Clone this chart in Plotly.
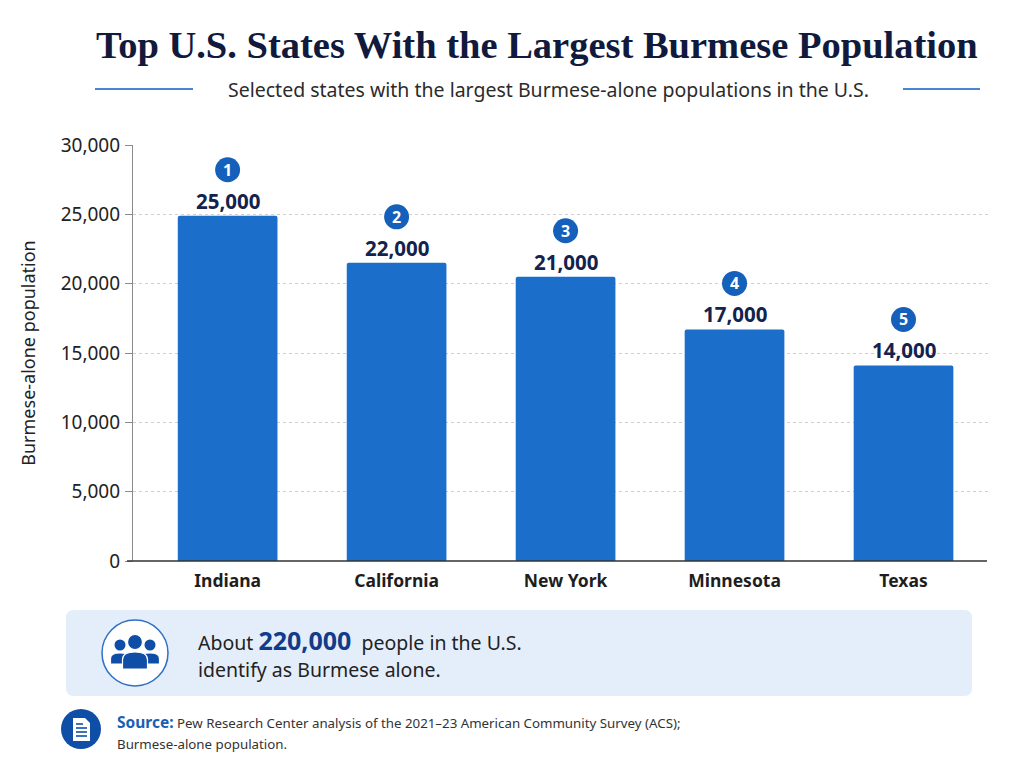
import plotly.graph_objects as go

states = ["Indiana", "California", "New York", "Minnesota", "Texas"]
bar_values = [24900, 21500, 20500, 16700, 14100]
value_labels = ["25,000", "22,000", "21,000", "17,000", "14,000"]
ranks = ["1", "2", "3", "4", "5"]
y_ticks = [0, 5000, 10000, 15000, 20000, 25000, 30000]
y_tick_labels = ["0", "5,000", "10,000", "15,000", "20,000", "25,000", "30,000"]

# page has an 8px body margin; work in page pixel coordinates
OFF = 8
W, H = 1024 - OFF, 768 - OFF
X0, X1, Y0, Y1 = 133, 988, 145, 561   # plot area in page px
ML, MR, MT, MB = X0 - OFF, 1024 - X1, Y0 - OFF, 768 - Y1
PW, PH = X1 - X0, Y1 - Y0


def px(x):
    return (x - X0) / PW


def py(y):
    return (Y1 - y) / PH


BAR = "#1b6fcb"
BADGE = "#1460bb"
NAVY = "#13234d"
ICON = "#0f4ea6"

fig = go.Figure()
fig.add_trace(go.Bar(
    x=list(range(len(states))), y=bar_values, width=0.59,
    marker=dict(color=BAR, line=dict(width=0)),
    hoverinfo="skip",
))

shapes = []
annotations = []


def note(x, y, text, size, color="#222222", xanchor="center", family="Noto Sans"):
    annotations.append(dict(
        x=px(x), y=py(y), xref="paper", yref="paper", xanchor=xanchor, yanchor="middle",
        showarrow=False, text=text, font=dict(family=family, size=size, color=color)))


for i, (v, lab, rk) in enumerate(zip(bar_values, value_labels, ranks)):
    annotations.append(dict(
        x=i, y=v, xref="x", yref="y", text="<b>%s</b>" % lab, showarrow=False,
        xanchor="center", yanchor="middle", yshift=15,
        font=dict(family="Noto Sans", size=20.5, color=NAVY)))
    shapes.append(dict(
        type="circle", xref="x", yref="y", xsizemode="pixel", ysizemode="pixel",
        xanchor=i, yanchor=v, x0=-12.5, x1=12.5, y0=33.5, y1=58.5,
        fillcolor=BADGE, line=dict(width=0), layer="above"))
    annotations.append(dict(
        x=i, y=v, xref="x", yref="y", text="<b>%s</b>" % rk, showarrow=False,
        xanchor="center", yanchor="middle", yshift=46,
        font=dict(family="Noto Sans", size=16, color="white")))

# title and subtitle
note(537, 45, "<b>Top U.S. States With the Largest Burmese Population</b>", 38.5,
     color="#0f1a3d", family="Liberation Serif")
note(548, 89, "Selected states with the largest Burmese-alone populations in the U.S.",
     19.5, color="#2b2b2b")
for x0, x1 in [(95, 193), (903, 980)]:
    shapes.append(dict(type="line", xref="paper", yref="paper",
                       x0=px(x0), x1=px(x1), y0=py(89), y1=py(89),
                       line=dict(color="#4a86d0", width=2)))

# x-axis baseline
shapes.append(dict(type="line", xref="paper", yref="paper",
                   x0=px(127), x1=px(987), y0=py(561), y1=py(561),
                   line=dict(color="#333333", width=1.5)))


def rrect(x0, y0, x1, y1, r):
    pts = [
        f"M {px(x0 + r)} {py(y0)}",
        f"L {px(x1 - r)} {py(y0)}",
        f"Q {px(x1)} {py(y0)} {px(x1)} {py(y0 + r)}",
        f"L {px(x1)} {py(y1 - r)}",
        f"Q {px(x1)} {py(y1)} {px(x1 - r)} {py(y1)}",
        f"L {px(x0 + r)} {py(y1)}",
        f"Q {px(x0)} {py(y1)} {px(x0)} {py(y1 - r)}",
        f"L {px(x0)} {py(y0 + r)}",
        f"Q {px(x0)} {py(y0)} {px(x0 + r)} {py(y0)}",
        "Z",
    ]
    return " ".join(pts)


# info box
shapes.append(dict(type="path", xref="paper", yref="paper", path=rrect(66, 610, 972, 696, 8),
                   fillcolor="#e4eefa", line=dict(width=0), layer="below"))
# people icon circle
shapes.append(dict(type="circle", xref="paper", yref="paper",
                   x0=px(102), x1=px(168), y0=py(620), y1=py(686),
                   fillcolor="white", line=dict(color="#2f6fc4", width=1.5)))


def circ(cx, cy, r, color):
    return dict(type="circle", xref="paper", yref="paper",
                x0=px(cx - r), x1=px(cx + r), y0=py(cy - r), y1=py(cy + r),
                fillcolor=color, line=dict(width=0))


def body(cx, top, half_w, bottom):
    p = (f"M {px(cx - half_w)} {py(bottom)} "
         f"L {px(cx - half_w)} {py(top + half_w * 0.6)} "
         f"Q {px(cx - half_w)} {py(top)} {px(cx)} {py(top)} "
         f"Q {px(cx + half_w)} {py(top)} {px(cx + half_w)} {py(top + half_w * 0.6)} "
         f"L {px(cx + half_w)} {py(bottom)} Z")
    return dict(type="path", xref="paper", yref="paper", path=p,
                fillcolor=ICON, line=dict(color="white", width=1.2))


shapes += [
    circ(120, 645, 5.5, ICON), circ(150, 645, 5.5, ICON),
    body(120, 653, 9.5, 664), body(150, 653, 9.5, 664),
    dict(circ(135, 642, 7.5, ICON), line=dict(color="white", width=1.2)),
    body(135, 652, 12.5, 669),
]

note(196, 640, ("About <b><span style='font-size:25px;color:#123b8a'>220,000</span></b>"
                "  people in the U.S."), 19.5, xanchor="left")
note(196, 669, "identify as Burmese alone.", 19.5, xanchor="left")

# source icon
shapes.append(circ(81, 729, 20, ICON))
doc = (f"M {px(73)} {py(718)} L {px(85)} {py(718)} L {px(90)} {py(723)} "
       f"L {px(90)} {py(741)} L {px(73)} {py(741)} Z")
shapes.append(dict(type="path", xref="paper", yref="paper", path=doc,
                   fillcolor="white", line=dict(width=0)))
for yy, x1 in [(724, 83), (728, 87), (732, 87), (736, 87)]:
    shapes.append(dict(type="line", xref="paper", yref="paper",
                       x0=px(76), x1=px(x1), y0=py(yy), y1=py(yy),
                       line=dict(color=ICON, width=1.6)))

note(115, 722, ("<b><span style='color:#1a5fb4;font-size:15.5px'>Source:</span></b> "
                "Pew Research Center analysis of the 2021–23 American Community Survey (ACS);"),
     13.3, color="#333333", xanchor="left")
note(115, 744, "Burmese-alone population.", 13.3, color="#333333", xanchor="left")

fig.update_layout(
    width=W, height=H,
    margin=dict(l=ML, r=MR, t=MT, b=MB),
    paper_bgcolor="white", plot_bgcolor="white",
    showlegend=False,
    barcornerradius=2,
    shapes=shapes, annotations=annotations,
    xaxis=dict(
        range=[-0.56, 4.5], tickmode="array",
        tickvals=list(range(len(states))),
        ticktext=["<b>%s</b>" % s for s in states],
        tickfont=dict(family="Noto Sans", size=17.5, color="#1e1e1e"),
        ticklabelstandoff=7,
        showgrid=False, zeroline=False, showline=False, ticks="",
        fixedrange=True,
    ),
    yaxis=dict(
        range=[0, 30000], tickmode="array", tickvals=y_ticks, ticktext=y_tick_labels,
        tickfont=dict(family="Noto Sans", size=19, color="#222222"),
        showgrid=True, gridcolor="#cfcfcf", griddash="dot", gridwidth=1,
        zeroline=False, showline=True, linecolor="#8a8a8a", linewidth=1.2,
        ticks="outside", ticklen=7, tickcolor="#8a8a8a",
        ticklabelstandoff=1,
        title=dict(text="Burmese-alone population",
                   font=dict(family="Noto Sans", size=18, color="#222222"),
                   standoff=20),
        fixedrange=True,
    ),
)

fig.write_html("out.html")
